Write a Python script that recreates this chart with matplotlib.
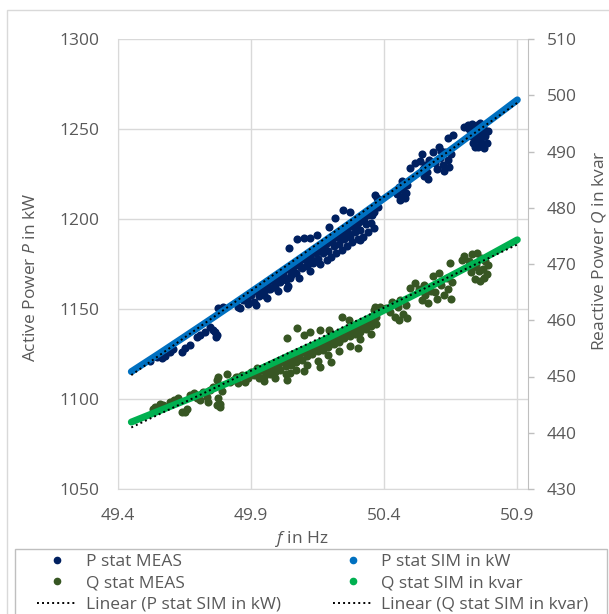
import matplotlib.pyplot as plt
import numpy as np
from matplotlib.lines import Line2D
from matplotlib.patches import Rectangle

plt.rcParams['font.family'] = ['Open Sans', 'DejaVu Sans']
plt.rcParams['mathtext.fontset'] = 'custom'
plt.rcParams['mathtext.rm'] = 'Open Sans'
plt.rcParams['mathtext.it'] = 'Open Sans:italic'

# colours (Excel palette)
c_p_meas = '#002060'
c_p_sim = '#0070C0'
c_q_meas = '#375623'
c_q_sim = '#00B050'
c_text = '#595959'

# simulated curves
f_sim = [49.45, 49.55, 49.65, 49.75, 49.85, 49.95, 50.05, 50.15,
         50.25, 50.35, 50.45, 50.55, 50.65, 50.75, 50.85, 50.90]
p_sim = [1115.2, 1124.8, 1134.6, 1144.5, 1154.5, 1164.6, 1174.8, 1185.1,
         1195.5, 1206.2, 1216.8, 1227.6, 1238.5, 1249.5, 1260.6, 1266.2]
q_sim = [441.9, 443.8, 445.7, 447.6, 449.6, 451.7, 453.9, 456.0,
         458.3, 460.6, 463.0, 465.4, 467.9, 470.4, 473.0, 474.3]

# measured active power P (kW) vs f (Hz)
f_p_meas = [49.520, 49.545, 49.564, 49.577, 49.595, 49.608, 49.639, 49.652,
            49.671, 49.696, 49.708, 49.727, 49.746, 49.758, 49.771, 49.765,
            49.768, 49.777, 49.783, 49.796, 49.852, 49.859, 49.870, 49.884,
            49.896,
            # main cloud
            49.88, 49.89, 49.90, 49.91, 49.92, 49.92, 49.93, 49.94, 49.95,
            49.96, 49.96, 49.97, 49.98, 49.99, 50.00, 50.00, 50.01, 50.02,
            50.03, 50.04, 50.04, 50.05, 50.06, 50.07, 50.08, 50.08, 50.09,
            50.10, 50.11, 50.12, 50.12, 50.13, 50.14, 50.15, 50.16, 50.16,
            50.17, 50.18, 50.19, 50.20, 50.20, 50.21, 50.22, 50.23, 50.24,
            50.24, 50.25, 50.26, 50.27, 50.28, 50.28, 50.29, 50.30, 50.31,
            50.32, 50.32, 50.33, 50.34, 50.35, 50.36, 50.36, 49.953, 49.983,
            50.034, 50.047, 50.109, 50.134, 50.185, 50.31,
            49.935, 49.965, 49.995, 50.025, 50.055, 50.085, 50.115, 50.145,
            50.175, 50.205, 50.235, 50.265, 50.295, 50.325, 50.355,
            50.22, 50.26, 50.30, 50.34,
            # points above the cloud
            50.044, 50.071, 50.097, 50.122, 50.147, 50.191, 50.216, 50.245,
            50.272, 50.366, 50.372, 50.375,
            # cluster around 50.46
            50.448, 50.455, 50.462, 50.468, 50.472, 50.478, 50.485, 50.480,
            50.458, 50.498, 50.517,
            # cluster around 50.55
            50.535, 50.540, 50.545, 50.550, 50.555, 50.560, 50.565, 50.570,
            # cluster around 50.61
            50.585, 50.590, 50.600, 50.605, 50.610, 50.620, 50.625, 50.630,
            50.640, 50.645, 50.652, 50.615, 50.640, 50.660, 50.700, 50.716,
            # cluster around 50.76
            50.720, 50.725, 50.730, 50.735, 50.740, 50.745, 50.750, 50.752,
            50.760, 50.765, 50.770, 50.775, 50.780, 50.785, 50.790, 50.760,
            50.740, 50.755, 50.775]
p_meas = [1121.0, 1123.5, 1122.6, 1123.9, 1126.3, 1127.6, 1126.3, 1128.2,
          1130.0, 1134.6, 1135.6, 1137.4, 1140.2, 1138.3, 1135.6, 1137.0,
          1134.5, 1150.4, 1149.4, 1151.3, 1151.3, 1150.4, 1155.0, 1155.0,
          1157.8,
          1156, 1153, 1158, 1154, 1160, 1152, 1157, 1161, 1158,
          1164, 1156, 1161, 1166, 1162, 1168, 1160, 1165, 1170,
          1166, 1172, 1163, 1169, 1174, 1170, 1176, 1167, 1173,
          1178, 1174, 1180, 1171, 1177, 1182, 1178, 1184, 1175,
          1181, 1186, 1182, 1188, 1179, 1185, 1190, 1186, 1192,
          1183, 1189, 1194, 1190, 1196, 1187, 1193, 1198, 1194,
          1200, 1190, 1197, 1202, 1198, 1204, 1195, 1162.4, 1162.4,
          1161.5, 1167.2, 1174.4, 1175.4, 1177.2, 1188.3,
          1159, 1161, 1165, 1168, 1171, 1174, 1177, 1181,
          1183, 1187, 1190, 1192, 1196, 1199, 1202,
          1181, 1185, 1189, 1193,
          1183.7, 1188.9, 1189.6, 1189.3, 1191.1, 1195.7, 1200.4, 1205.0,
          1204.1, 1213.3, 1211.5, 1206.7,
          1214.0, 1218.0, 1212.0, 1221.0, 1216.0, 1211.5, 1219.0, 1214.5,
          1210.5, 1228.2, 1231.3,
          1232.0, 1236.0, 1228.0, 1224.0, 1230.0, 1226.0, 1222.5, 1233.0,
          1237.0, 1231.0, 1228.0, 1240.0, 1234.0, 1230.0, 1226.5, 1237.0,
          1233.0, 1229.0, 1236.0, 1238.0, 1245.0, 1246.7, 1251.0, 1252.0,
          1250.0, 1246.0, 1253.0, 1242.0, 1249.0, 1245.0, 1252.0, 1240.0,
          1247.0, 1243.0, 1251.0, 1239.5, 1246.0, 1242.5, 1249.0, 1253.5,
          1240.0, 1244.0, 1248.0]

# measured reactive power Q (kvar) vs f (Hz)
f_q_meas = [49.530, 49.545, 49.558, 49.539, 49.570, 49.595, 49.610, 49.625,
            49.639, 49.652, 49.658, 49.670, 49.685, 49.696, 49.708, 49.720,
            49.733, 49.739, 49.745, 49.758, 49.771, 49.777, 49.783, 49.777,
            49.771, 49.783, 49.790, 49.809, 49.820, 49.833, 49.845, 49.852,
            49.852, 49.865, 49.877, 49.890, 49.900, 49.910, 49.921,
            # main cloud
            49.93, 49.93, 49.95, 49.95, 49.95, 49.97, 49.97, 49.99, 49.99,
            49.99, 50.01, 50.01, 50.03, 50.03, 50.03, 50.05, 50.05, 50.07,
            50.07, 50.07, 50.09, 50.09, 50.11, 50.11, 50.11, 50.13, 50.13,
            50.15, 50.15, 50.15, 50.17, 50.17, 50.19, 50.19, 50.19, 50.21,
            50.21, 50.23, 50.23, 50.23, 50.25, 50.25, 50.27, 50.27, 50.27,
            50.29, 50.29, 50.31, 50.31, 50.31, 50.33, 50.33, 50.35, 50.35,
            50.35, 50.37, 50.37, 50.034, 50.047, 50.159, 50.10, 50.20, 50.30,
            49.96, 50.00, 50.04, 50.08, 50.12, 50.16, 50.20, 50.24, 50.28,
            50.32, 50.36,
            # points above the cloud
            50.034, 50.071, 50.097, 50.122, 50.159, 50.191, 50.241, 50.266,
            50.366, 50.360, 50.385,
            # cluster around 50.45
            50.420, 50.430, 50.440, 50.450, 50.455, 50.460, 50.470, 50.480,
            50.485, 50.405, 50.498, 50.517,
            # cluster around 50.55
            50.530, 50.540, 50.550, 50.555, 50.565, 50.575,
            # cluster around 50.62
            50.585, 50.590, 50.600, 50.605, 50.615, 50.625, 50.635, 50.640,
            50.650, 50.655, 50.648, 50.692, 50.700,
            # cluster around 50.75
            50.720, 50.725, 50.730, 50.740, 50.745, 50.750, 50.755, 50.760,
            50.765, 50.770, 50.775, 50.780, 50.785, 50.790, 50.735, 50.760]
q_meas = [444.3, 444.0, 445.2, 444.6, 445.0, 445.5, 445.8, 446.2,
          443.7, 443.7, 444.3, 446.7, 447.0, 446.1, 445.8, 447.3,
          446.4, 445.5, 447.6, 448.2, 449.4, 450.0, 445.2, 446.1,
          444.9, 444.6, 447.5, 450.4, 449.0, 449.4, 449.9, 450.0,
          448.8, 450.3, 449.1, 449.7, 450.8, 450.2, 451.5,
          451.0, 449.8, 451.2, 450.0, 449.2, 451.6, 450.4, 452.0, 450.8,
          449.8, 452.5, 451.2, 452.8, 451.8, 450.5, 453.3, 452.0, 453.8,
          452.6, 451.2, 454.3, 453.0, 454.7, 453.6, 452.0, 455.1, 454.0,
          455.6, 454.5, 452.8, 456.0, 454.8, 456.5, 455.3, 453.8, 456.9,
          455.8, 457.4, 456.2, 454.6, 457.8, 456.8, 458.3, 457.2, 455.5,
          458.7, 457.6, 459.2, 458.0, 456.6, 459.7, 458.5, 460.1, 459.0,
          457.5, 460.6, 459.4, 449.4, 450.6, 451.7, 451.0, 452.5, 455.0,
          450.9, 451.8, 452.6, 453.4, 454.2, 455.0, 455.9, 456.8, 457.7,
          458.6, 459.5,
          456.8, 458.7, 457.4, 458.0, 458.3, 458.3, 460.6, 460.0,
          462.4, 461.8, 462.4,
          461.5, 463.3, 460.5, 462.4, 460.0, 463.6, 461.2, 462.8,
          460.4, 462.2, 465.7, 466.7,
          465.5, 463.6, 466.2, 464.5, 463.1, 465.2,
          467.8, 465.0, 463.8, 468.4, 466.3, 464.5, 467.5, 465.5,
          463.7, 466.8, 470.1, 470.7, 471.5,
          470.5, 468.5, 471.8, 467.3, 470.0, 472.0, 468.8, 466.9,
          471.0, 469.2, 467.5, 470.6, 468.2, 469.8, 469.5, 469.0]

labels = ['P stat MEAS', 'Q stat MEAS', 'Linear (P stat SIM in kW)',
          'P stat SIM in kW', 'Q stat SIM in kvar', 'Linear (Q stat SIM in kvar)']

fig = plt.figure(figsize=(6.09, 6.14), dpi=100)
ax = fig.add_axes([118/609, 1 - 489/614, 410/609, 450/614])
ax2 = ax.twinx()

dots = (0, (1, 1.6))

# active power on the left axis
ax.scatter(f_p_meas, p_meas, s=34, color=c_p_meas, lw=0, zorder=2)
ax.plot(f_sim, p_sim, color=c_p_sim, lw=5, solid_capstyle='round', zorder=3)
fit_p = np.polyfit(f_sim, p_sim, 1)
f_ends = [min(f_sim), max(f_sim)]
ax.plot(f_ends, np.polyval(fit_p, f_ends), color='black', lw=1.4, ls=dots, zorder=4)

# reactive power on the right axis
ax2.scatter(f_q_meas, q_meas, s=34, color=c_q_meas, lw=0, zorder=2)
ax2.plot(f_sim, q_sim, color=c_q_sim, lw=5, solid_capstyle='round', zorder=3)
fit_q = np.polyfit(f_sim, q_sim, 1)
ax2.plot(f_ends, np.polyval(fit_q, f_ends), color='black', lw=1.4, ls=dots, zorder=4)

ax.set_xlim(49.4, 50.94)
ax.set_xticks([49.4, 49.9, 50.4, 50.9])
ax.set_ylim(1050, 1300)
ax.set_yticks(range(1050, 1301, 50))
ax2.set_ylim(430, 510)
ax2.set_yticks(range(430, 511, 10))

ax.grid(color='#d9d9d9', lw=1)
ax.set_axisbelow(True)
ax.tick_params(length=0, labelsize=12.5, labelcolor=c_text)
ax.tick_params(axis='x', pad=14)
ax.tick_params(axis='y', pad=13.5)
ax2.tick_params(axis='y', length=4.5, width=1, color='#bfbfbf', labelsize=12.5,
                labelcolor=c_text, pad=9)

for s in ['top', 'right']:
    ax.spines[s].set_visible(False)
for s in ['left', 'bottom']:
    ax.spines[s].set_color('#d9d9d9')
for s in ['top', 'left', 'bottom']:
    ax2.spines[s].set_visible(False)
ax2.spines['right'].set_color('#bfbfbf')

ax.set_ylabel('Active Power $P$ in kW', fontsize=12.5, color=c_text)
ax.yaxis.set_label_coords(-0.193, 0.471)
ax2.set_ylabel('Reactive Power $Q$ in kvar', fontsize=12.5, color=c_text)
ax2.yaxis.set_label_coords(1.152, 0.529)
ax.set_xlabel('$f$ in Hz', fontsize=12.5, color=c_text)
ax.xaxis.set_label_coords(0.449, -0.088)

# legend
handles = [
    Line2D([], [], ls='none', marker='o', ms=4.5, color=c_p_meas),
    Line2D([], [], ls='none', marker='o', ms=4.5, color=c_q_meas),
    Line2D([], [], color='black', lw=1.4, ls=dots),
    Line2D([], [], ls='none', marker='o', ms=4.5, color=c_p_sim),
    Line2D([], [], ls='none', marker='o', ms=4.5, color=c_q_sim),
    Line2D([], [], color='black', lw=1.4, ls=dots),
]
fig.legend(handles, labels, ncol=2, loc='upper left',
           bbox_to_anchor=(37/609, 1 - 554/614), frameon=False,
           borderpad=0, borderaxespad=0, handlelength=2.3, handletextpad=0.5,
           columnspacing=3.0, labelspacing=0.3, fontsize=12.5, labelcolor=c_text)

# legend box and chart border (both run off the bottom of the image)
fig.add_artist(Rectangle((15/609, -0.1), (607 - 15)/609, 1 - 549/614 + 0.1,
                         transform=fig.transFigure, fill=False, ec='#bfbfbf', lw=1))
fig.add_artist(Rectangle((7/609, -0.1), 1.1, 1 - 10/614 + 0.1,
                         transform=fig.transFigure, fill=False, ec='#d9d9d9', lw=1))

fig.savefig('out.png', dpi=100)
